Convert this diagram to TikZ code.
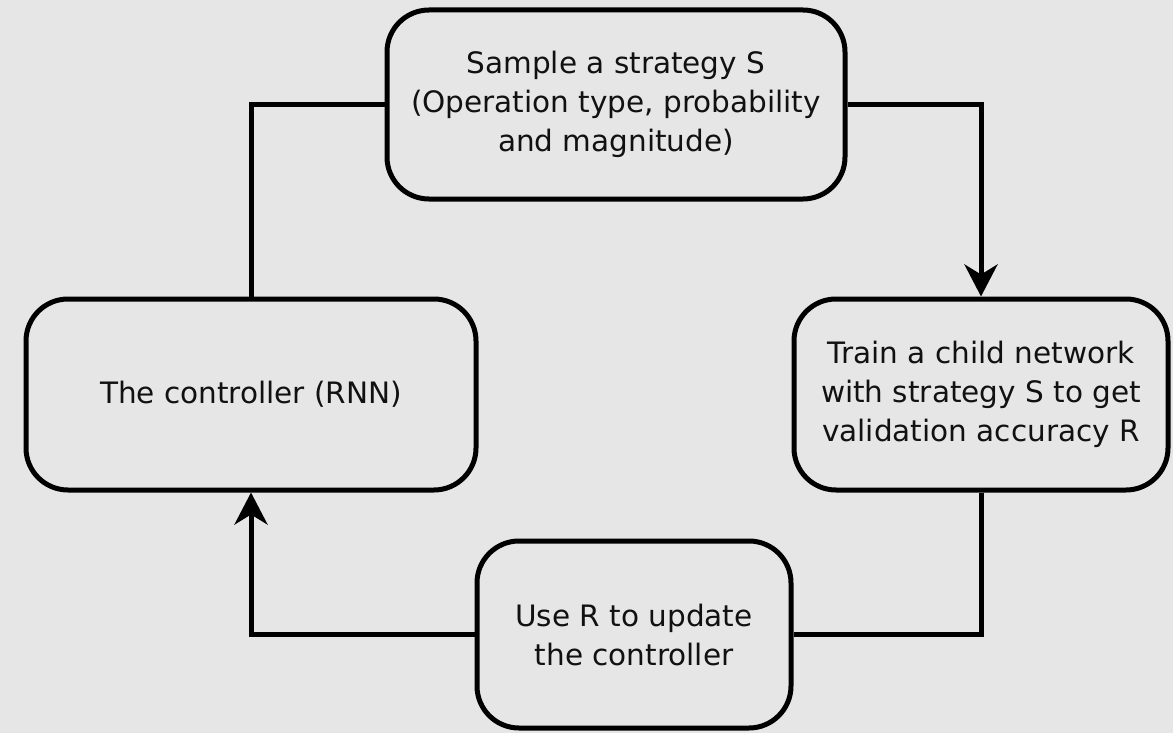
\documentclass[tikz,border=0pt]{standalone}
\usepackage{fontspec}
\setmainfont{DejaVu Sans}
\usetikzlibrary{arrows.meta}
\definecolor{bg}{HTML}{E6E6E6}
\definecolor{ink}{HTML}{111111}
\begin{document}
\begin{tikzpicture}[x=1pt,y=-1pt,
  box/.style={draw=black, line width=5pt, fill=bg, rounded corners=42pt,
    align=center, inner sep=0pt, text=ink, font=\fontsize{29.5}{39}\selectfont},
  link/.style={draw=black, line width=5pt},
  tip/.style={-{Stealth[length=32pt,width=33pt,inset=10pt]}}]
\fill[bg] (0,0) rectangle (1173,733);
\useasboundingbox (0,0) rectangle (1173,733);
\node[box, minimum width=458pt, minimum height=189pt] (top) at (616,104.5)
  {Sample a strategy S\\(Operation type, probability\\and magnitude)};
\node[box, minimum width=450pt, minimum height=191pt] (left) at (251,394.5)
  {The controller (RNN)};
\node[box, minimum width=374pt, minimum height=191pt] (right) at (981,394.5)
  {Train a child network\\with strategy S to get\\validation accuracy R};
\node[box, minimum width=314pt, minimum height=187pt] (bot) at (634,634.5)
  {Use R to update\\the controller};
\draw[link] (left.north) |- (top.west);
\draw[link, tip] (top.east) -| (right.north);
\draw[link] (right.south) |- (bot.east);
\draw[link, tip] (bot.west) -| (left.south);
\end{tikzpicture}
\end{document}
